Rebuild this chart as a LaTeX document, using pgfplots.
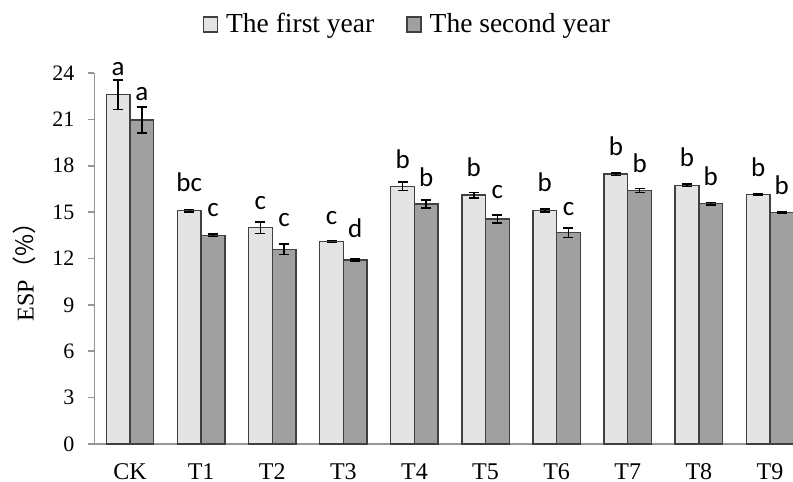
\documentclass[border=0pt]{standalone}
\usepackage{fontspec}
\setmainfont{Liberation Serif}
\newfontfamily\carl{Carlito}
\newfontfamily\cjk{Noto Sans CJK SC}
\usepackage{pgfplots}
\pgfplotsset{compat=1.18}
\usepackage{pgfplotstable}
\definecolor{lightbar}{RGB}{228,228,228}
\definecolor{darkbar}{RGB}{160,160,160}
\definecolor{barline}{RGB}{64,64,64}
\definecolor{axisgray}{RGB}{150,150,150}

\pgfplotstableread{
x y err
0 22.6 0.95
1 15.1 0.08
2 14.0 0.37
3 13.1 0.07
4 16.67 0.28
5 16.1 0.18
6 15.1 0.10
7 17.46 0.08
8 16.73 0.08
9 16.13 0.06
}\first
\pgfplotstableread{
x y err
0 20.95 0.85
1 13.5 0.07
2 12.6 0.35
3 11.9 0.07
4 15.52 0.27
5 14.55 0.25
6 13.67 0.32
7 16.4 0.13
8 15.54 0.08
9 14.96 0.05
}\second

\begin{document}
\begin{tikzpicture}
\useasboundingbox (-47.25pt,-19pt) rectangle (349.25pt,222pt);
\begin{axis}[
  at={(0,0)}, anchor=south west,
  scale only axis, width=355.5pt, height=185.5pt,
  ybar=0pt, bar width=0.333,
  xmin=-0.5, xmax=9.5, ymin=0, ymax=24,
  xtick={0,1,2,3,4,5,6,7,8,9},
  xticklabels={CK,T1,T2,T3,T4,T5,T6,T7,T8,T9},
  ytick={0,3,...,24},
  axis x line*=bottom, axis y line*=left,
  axis line style={axisgray, line width=0.8pt, -},
  x tick style={draw=none},
  y tick style={axisgray, line width=0.8pt},
  tick align=outside, major tick length=3pt,
  tick label style={font=\fontsize{11}{13}\selectfont},
  xticklabel style={font=\fontsize{12}{14}\selectfont, yshift=-3.3pt},
  yticklabel style={xshift=-3.5pt},
  /pgf/number format/assume math mode=true,
  ylabel={ESP\cjk{（}\%\cjk{）}},
  ylabel style={at={(axis description cs:-0.0985,0.48)}, anchor=center, font=\fontsize{12}{14}\selectfont},
  legend style={at={(0.4414,1.13)}, anchor=center, draw=none, legend columns=2,
    font=\fontsize{13.75}{16}\selectfont,
    /tikz/every odd column/.append style={column sep=2pt},
    /tikz/every even column/.append style={column sep=14pt}},
  legend image code/.code={\draw[#1] (0pt,-3.7pt) rectangle (7pt,3.8pt);},
  clip=false,
]
\addplot[fill=lightbar, draw=barline, line width=0.7pt,
  error bars/.cd, y dir=both, y explicit,
  error bar style={black, line width=0.8pt},
  error mark options={rotate=90, black, mark size=2.5pt, line width=0.8pt}]
  table[x=x, y=y, y error=err]{\first};
\addplot[fill=darkbar, draw=barline, line width=0.7pt,
  error bars/.cd, y dir=both, y explicit,
  error bar style={black, line width=0.8pt},
  error mark options={rotate=90, black, mark size=2.5pt, line width=0.8pt}]
  table[x=x, y=y, y error=err]{\second};
\legend{The first year, The second year}
\tikzset{lbl/.style={font=\carl\fontsize{13.5}{15}\selectfont, anchor=base, inner sep=0pt}}
\node[lbl] at (axis cs:-0.1667,23.87) {a};
\node[lbl] at (axis cs:0.1667,22.19) {a};
\node[lbl] at (axis cs:0.8333,16.32) {bc};
\node[lbl] at (axis cs:1.1667,14.70) {c};
\node[lbl] at (axis cs:1.8333,15.18) {c};
\node[lbl] at (axis cs:2.1667,14.10) {c};
\node[lbl] at (axis cs:2.8333,14.17) {c};
\node[lbl] at (axis cs:3.1667,13.37) {d};
\node[lbl] at (axis cs:3.8333,17.83) {b};
\node[lbl] at (axis cs:4.1667,16.69) {b};
\node[lbl] at (axis cs:4.8333,17.33) {b};
\node[lbl] at (axis cs:5.1667,15.89) {c};
\node[lbl] at (axis cs:5.8333,16.32) {b};
\node[lbl] at (axis cs:6.1667,14.81) {c};
\node[lbl] at (axis cs:6.8333,18.69) {b};
\node[lbl] at (axis cs:7.1667,17.57) {b};
\node[lbl] at (axis cs:7.8333,17.94) {b};
\node[lbl] at (axis cs:8.1667,16.75) {b};
\node[lbl] at (axis cs:8.8333,17.33) {b};
\node[lbl] at (axis cs:9.1667,16.17) {b};
\end{axis}
\end{tikzpicture}
\end{document}
